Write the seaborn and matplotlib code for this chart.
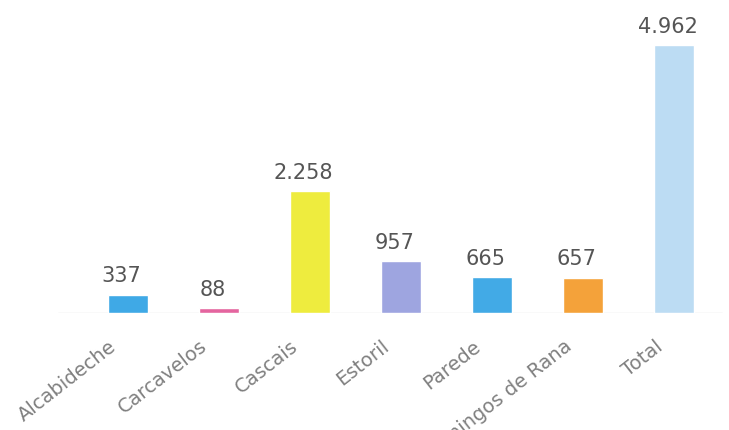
import matplotlib
matplotlib.use("Agg")
import matplotlib.pyplot as plt
import matplotlib.transforms as mtransforms
import seaborn as sns
import pandas as pd

categories = ["Alcabideche", "Carcavelos", "Cascais", "Estoril", "Parede",
              "São Domingos de Rana", "Total"]
values = [337, 88, 2258, 957, 665, 657, 4962]
value_labels = ["337", "88", "2.258", "957", "665", "657", "4.962"]
colors = ["#3fa9e6", "#e4659f", "#eeec3e", "#9ea5e0", "#42aae6", "#f4a23a", "#bcdcf3"]

sns.set_theme(style="white")
plt.rcParams["font.family"] = ["DejaVu Sans"]

df = pd.DataFrame({"cat": categories, "val": values})

fig = plt.figure(figsize=(7.29, 4.30), dpi=100)
ax = fig.add_axes([0.0, 0.272, 1.0, 0.705])
sns.barplot(data=df, x="cat", y="val", hue="cat", palette=colors,
            legend=False, width=0.44, ax=ax, saturation=1)

ax.set_xlim(-1.41, 6.6)
ax.set_ylim(0, 5610)
ax.set_xlabel("")
ax.set_ylabel("")
ax.set_yticks([])
for s in ax.spines.values():
    s.set_visible(False)
ax.axhline(0, xmin=0.08, xmax=0.99, color="#e3e3e3", lw=1.0, zorder=0)

for i, (v, lab) in enumerate(zip(values, value_labels)):
    ax.annotate(lab, (i, v), xytext=(-5, 6), textcoords="offset points",
                ha="center", va="bottom", fontsize=15, color="#555555")

ax.set_xticks(range(len(categories)))
ax.set_xticklabels(categories, rotation=38, ha="right", rotation_mode="anchor",
                   fontsize=14, color="#808080")
ax.tick_params(axis="x", length=0, pad=17)
offset = mtransforms.ScaledTranslation(-20 / 100, 0, fig.dpi_scale_trans)
for t in ax.get_xticklabels():
    t.set_transform(t.get_transform() + offset)

fig.savefig("out.png", dpi=100)
